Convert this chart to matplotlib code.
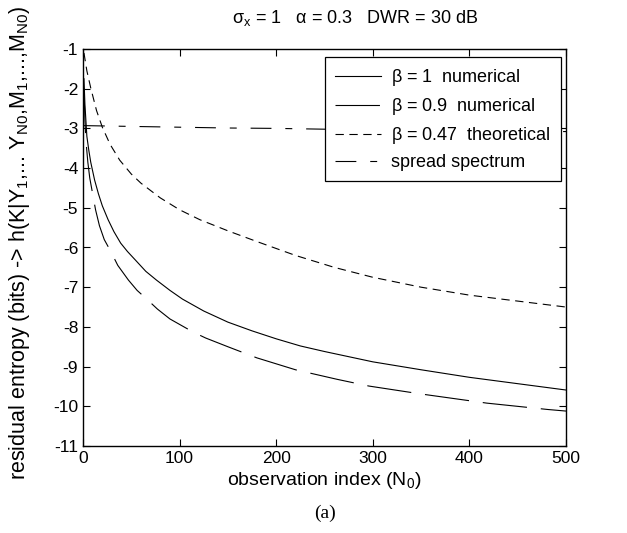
import matplotlib
matplotlib.use("Agg")
import matplotlib.pyplot as plt

plt.rcParams['font.family'] = ['Liberation Sans', 'DejaVu Sans']
plt.rcParams['mathtext.fontset'] = 'custom'
plt.rcParams['mathtext.rm'] = 'Liberation Sans'
plt.rcParams['mathtext.it'] = 'Liberation Sans'
plt.rcParams['mathtext.default'] = 'regular'
plt.rcParams['axes.unicode_minus'] = False
plt.rcParams['lines.scale_dashes'] = False

# ---- data ----
n_beta1 = [1, 2, 4, 6, 8, 12, 16, 20, 26, 32, 39, 46, 54, 65, 76, 90, 103, 125,
           150, 175, 200, 225, 250, 300, 350, 400, 450, 500]
h_beta1 = [-1.75, -2.4, -3.2, -3.55, -3.85, -4.3, -4.65, -4.95, -5.3, -5.6, -5.89,
           -6.1, -6.31, -6.6, -6.82, -7.08, -7.3, -7.6, -7.88, -8.1, -8.3, -8.48,
           -8.62, -8.88, -9.08, -9.27, -9.43, -9.59]

n_beta09 = [1, 2, 3, 5, 7, 10, 13, 17, 22, 29, 36, 47, 56, 66, 77, 90, 114, 127,
            150, 180, 220, 263, 296, 350, 418, 481, 500]
h_beta09 = [-2.0, -2.8, -3.3, -3.85, -4.25, -4.65, -5.05, -5.45, -5.8, -6.11, -6.45,
            -6.82, -7.08, -7.3, -7.55, -7.8, -8.13, -8.28, -8.5, -8.78, -9.08, -9.32,
            -9.49, -9.69, -9.92, -10.08, -10.12]

n_theory = [1, 4, 8, 14, 20, 28, 38, 50, 60, 80, 100, 121, 150, 180, 220, 260, 300,
            350, 400, 450, 500]
h_theory = [-1.1, -1.55, -1.98, -2.55, -2.97, -3.4, -3.8, -4.15, -4.38, -4.75, -5.05,
            -5.3, -5.58, -5.85, -6.2, -6.5, -6.75, -7.0, -7.2, -7.35, -7.5]

n_spread = [1, 50, 100, 150, 200, 250, 300, 350, 400, 450, 500]
h_spread = [-2.93, -2.95, -2.97, -2.99, -3.0, -3.02, -3.03, -3.05, -3.06, -3.07, -3.08]

labels = [r'$\beta$ = 1  numerical', r'$\beta$ = 0.9  numerical',
          r'$\beta$ = 0.47  theoretical', 'spread spectrum']
xticks = [0, 100, 200, 300, 400, 500]
yticks = [-1, -2, -3, -4, -5, -6, -7, -8, -9, -10, -11]

fig = plt.figure(figsize=(6.27, 5.33), dpi=100)
ax = fig.add_axes([83/627, 1-446/533, (566-83)/627, (446-49)/533])

lw = 0.8
ax.plot(n_beta1, h_beta1, color='black', lw=lw, label=labels[0])
ax.plot(n_beta09, h_beta09, color='black', lw=lw, dashes=(32, 10), label=labels[1])
ax.plot(n_theory, h_theory, color='black', lw=lw, dashes=(6, 4), label=labels[2])
ax.plot(n_spread, h_spread, color='black', lw=lw, dashes=(15, 10, 5, 10), label=labels[3])

ax.set_xlim(0, 500)
ax.set_ylim(-11, -1)
ax.set_xticks(xticks)
ax.set_yticks(yticks)
ax.tick_params(direction='in', top=True, right=True, length=5, labelsize=12.5, width=0.8)
for s in ax.spines.values():
    s.set_linewidth(1.0)

fig.text(355/627, 1-18/533, r'$\sigma_x$ = 1   $\alpha$ = 0.3   DWR = 30 dB',
         fontsize=13, ha='center', va='center')
ax.set_xlabel(r'observation index (N$_0$)', fontsize=14, labelpad=3)
ax.set_ylabel(r'residual entropy (bits) -> h(K|Y$_1$,... Y$_{N0}$,M$_1$,...,M$_{N0}$)',
              fontsize=15.5)
ax.yaxis.set_label_coords(-0.105, 0.51)

leg = ax.legend(loc='upper right', bbox_to_anchor=(561/627, 1-57/533),
                bbox_transform=fig.transFigure, borderaxespad=0, fontsize=13,
                handlelength=2.55, handletextpad=0.55, labelspacing=0.45,
                borderpad=0.55, fancybox=False, framealpha=1, edgecolor='black')
leg.get_frame().set_linewidth(0.9)

fig.text((83+566)/2/627, 1-513/533, '(a)', ha='center', va='center',
         fontsize=14, family='Liberation Serif')

fig.savefig('out.png', dpi=100)
